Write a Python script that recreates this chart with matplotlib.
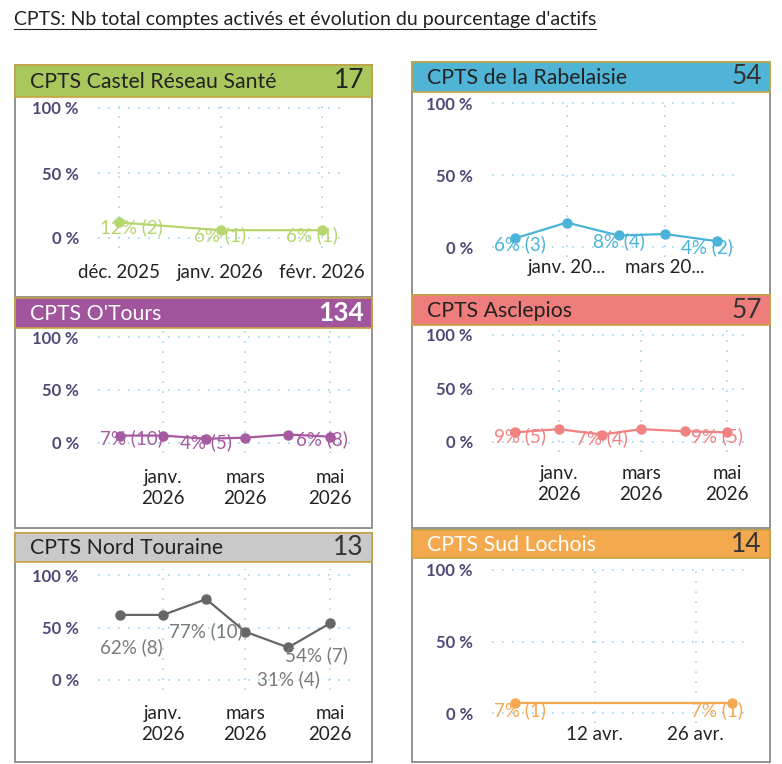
import datetime as dt
import matplotlib
matplotlib.use("Agg")
import matplotlib.pyplot as plt
import matplotlib.dates as mdates
from matplotlib.patches import Rectangle

W, H, DPI = 782, 764, 100
plt.rcParams['font.family'] = ['Lato', 'DejaVu Sans']

titre = "CPTS: Nb total comptes activés et évolution du pourcentage d'actifs"

# --- données ---
noms = ["CPTS Castel Réseau Santé", "CPTS de la Rabelaisie", "CPTS O'Tours",
        "CPTS Asclepios", "CPTS Nord Touraine", "CPTS Sud Lochois"]
totaux = [17, 54, 134, 57, 13, 14]

mois_castel = [dt.date(2025, 12, 1), dt.date(2026, 1, 1), dt.date(2026, 2, 1)]
pct_castel = [12, 6, 6]
lbl_castel = ["12% (2)", "6% (1)", "6% (1)"]

mois_rabelaisie = [dt.date(2025, 12, 1), dt.date(2026, 1, 1), dt.date(2026, 2, 1),
                   dt.date(2026, 3, 1), dt.date(2026, 4, 1)]
pct_rabelaisie = [6, 17, 8, 9, 4]
lbl_rabelaisie = ["6% (3)", None, "8% (4)", None, "4% (2)"]

mois_6 = [dt.date(2025, 12, 1), dt.date(2026, 1, 1), dt.date(2026, 2, 1),
          dt.date(2026, 3, 1), dt.date(2026, 4, 1), dt.date(2026, 5, 1)]
pct_otours = [7, 7, 4, 5, 8, 6]
lbl_otours = ["7% (10)", None, "4% (5)", None, None, "6% (8)"]

pct_asclepios = [9, 12, 7, 12, 10, 9]
lbl_asclepios = ["9% (5)", None, "7% (4)", None, None, "9% (5)"]

pct_nord = [62, 62, 77, 46, 31, 54]
lbl_nord = ["62% (8)", None, "77% (10)", None, "31% (4)", "54% (7)"]

jours_lochois = [dt.date(2026, 4, 1), dt.date(2026, 5, 1)]
pct_lochois = [7, 7]
lbl_lochois = ["7% (1)", "7% (1)"]

ticks_castel = (mois_castel, ["déc. 2025", "janv. 2026", "févr. 2026"])
ticks_rab = ([dt.date(2026, 1, 1), dt.date(2026, 3, 1)], ["janv. 20...", "mars 20..."])
ticks_6 = ([dt.date(2026, 1, 1), dt.date(2026, 3, 1), dt.date(2026, 5, 1)],
           ["janv.\n2026", "mars\n2026", "mai\n2026"])
ticks_loch = ([dt.date(2026, 4, 12), dt.date(2026, 4, 26)], ["12 avr.", "26 avr."])

series = [
    (mois_castel, pct_castel, lbl_castel, ticks_castel),
    (mois_rabelaisie, pct_rabelaisie, lbl_rabelaisie, ticks_rab),
    (mois_6, pct_otours, lbl_otours, ticks_6),
    (mois_6, pct_asclepios, lbl_asclepios, ticks_6),
    (mois_6, pct_nord, lbl_nord, ticks_6),
    (jours_lochois, pct_lochois, lbl_lochois, ticks_loch),
]

# --- styles (couleurs, positions en pixels) ---
couleurs_entete = ['#a9c75c', '#4fb4d6', '#a0559c', '#ee7d7c', '#c9c9c9', '#f4a94f']
couleurs_ligne = ['#b6d66e', '#4ab4d8', '#a65aa0', '#f08282', '#666666', '#f5a852']
couleurs_lbl = ['#b6d66e', '#4ab4d8', '#a65aa0', '#f08282', '#7a7a7a', '#f5a852']
texte_entete = ['#222222', '#222222', 'white', '#222222', '#222222', 'white']
texte_total = ['#222222', '#333333', 'white', '#333333', '#333333', '#333333']

# box, header bottom, y0, y100, grid x0, grid x1, first pt x, last pt x, tick pad, label offset
layout = [
    ((15, 65, 372, 297), 97, 238, 108, 98, 340, 119, 322, 16, 5),
    ((412, 62, 770, 295), 92, 247, 103, 492, 735, 515, 717, 2, 6),
    ((15, 298, 372, 528), 328, 443, 337, 98, 350, 120, 330, 16, 3),
    ((412, 295, 770, 528), 325, 442, 335, 492, 745, 515, 727, 13, 4),
    ((15, 533, 372, 762), 562, 680, 575, 98, 350, 120, 330, 15, 32),
    ((412, 530, 770, 762), 558, 713, 570, 492, 745, 515, 732, 3, 7),
]


def fx(px):
    return px / W


def fy(py):
    return 1 - py / H


fig = plt.figure(figsize=(W / DPI, H / DPI), dpi=DPI)

fig.text(fx(14), fy(20), titre, fontsize=14, color='#222222', va='center', ha='left')

pt = 72 / DPI
annots = []
for i, (dates, pct, lbls, (tk, tl)) in enumerate(series):
    (bx0, by0, bx1, by1), hb, y0, y100, gx0, gx1, p0, p1, pad, off = layout[i]

    # cadre
    fig.patches.append(Rectangle((fx(bx0), fy(by1)), fx(bx1) - fx(bx0), fy(by0) - fy(by1),
                                 transform=fig.transFigure, facecolor='white',
                                 edgecolor='#8a8a8a', linewidth=1.3, zorder=-2))
    fig.patches.append(Rectangle((fx(bx0), fy(hb)), fx(bx1) - fx(bx0), fy(by0) - fy(hb),
                                 transform=fig.transFigure, facecolor=couleurs_entete[i],
                                 edgecolor='#c8a440', linewidth=1.2, zorder=-1))
    fig.text(fx(bx0 + 15), fy((by0 + hb) / 2 + 1), noms[i], fontsize=15.3, color=texte_entete[i],
             va='center', ha='left')
    fig.text(fx(bx1 - 8), fy((by0 + hb) / 2), str(totaux[i]), fontsize=19, color=texte_total[i],
             va='center', ha='right', fontweight='bold' if i == 2 else 'normal')

    # zone de tracé
    top, bottom = y100 - 6, y0 + 10
    ax = fig.add_axes([fx(gx0), fy(bottom), fx(gx1) - fx(gx0), fy(top) - fy(bottom)])
    ax.set_zorder(2)
    ax.patch.set_alpha(0)
    d0, d1 = mdates.date2num(dates[0]), mdates.date2num(dates[-1])
    k = (d1 - d0) / (p1 - p0)
    ax.set_xlim(d0 - (p0 - gx0) * k, d1 + (gx1 - p1) * k)
    kp = 100 / (y0 - y100)
    ax.set_ylim(-(bottom - y0) * kp, 100 + (y100 - top) * kp)

    ax.plot(dates, pct, color=couleurs_ligne[i], linewidth=1.6, marker='o', markersize=6.5,
            zorder=3, clip_on=False)
    for d, v, l in zip(dates, pct, lbls):
        if l is None:
            continue
        a = ax.annotate(l, (d, v), xytext=(0, -off * pt), textcoords='offset points',
                        ha='center', va='center', fontsize=13.5, color=couleurs_lbl[i],
                        annotation_clip=False, zorder=4)
        annots.append((ax, a, off))

    ax.set_yticks([0, 50, 100])
    ax.set_yticklabels(['0 %', '50 %', '100 %'])
    ax.set_xticks(tk)
    ax.set_xticklabels(tl, linespacing=1.28)
    ax.tick_params(axis='y', length=0, pad=19 * pt, labelsize=12, labelcolor='#4e4a78')
    ax.tick_params(axis='x', length=0, pad=pad * pt, labelsize=13.5, labelcolor='#222222')
    for lab in ax.get_yticklabels():
        lab.set_fontweight('bold')
    ax.grid(True, color='#9fd6f0', linestyle=(0, (1, 5)), linewidth=1.2)
    ax.set_axisbelow(True)
    for s in ax.spines.values():
        s.set_visible(False)

# garder les étiquettes dans la zone de tracé
fig.canvas.draw()
r = fig.canvas.get_renderer()
for ax, a, off in annots:
    bb = a.get_window_extent(r)
    axb = ax.get_window_extent(r)
    dx = 0
    if bb.x0 < axb.x0:
        dx = axb.x0 - bb.x0 + 2
    elif bb.x1 > axb.x1:
        dx = axb.x1 - bb.x1 - 2
    a.xyann = (dx * pt, -off * pt)

# souligner le titre
t = fig.texts[0]
bb = t.get_window_extent(r)
fig.add_artist(plt.Line2D([bb.x0 / W, bb.x1 / W], [fy(29), fy(29)], color='#222222',
                          linewidth=0.8, transform=fig.transFigure))

fig.savefig('out.png', dpi=DPI)
